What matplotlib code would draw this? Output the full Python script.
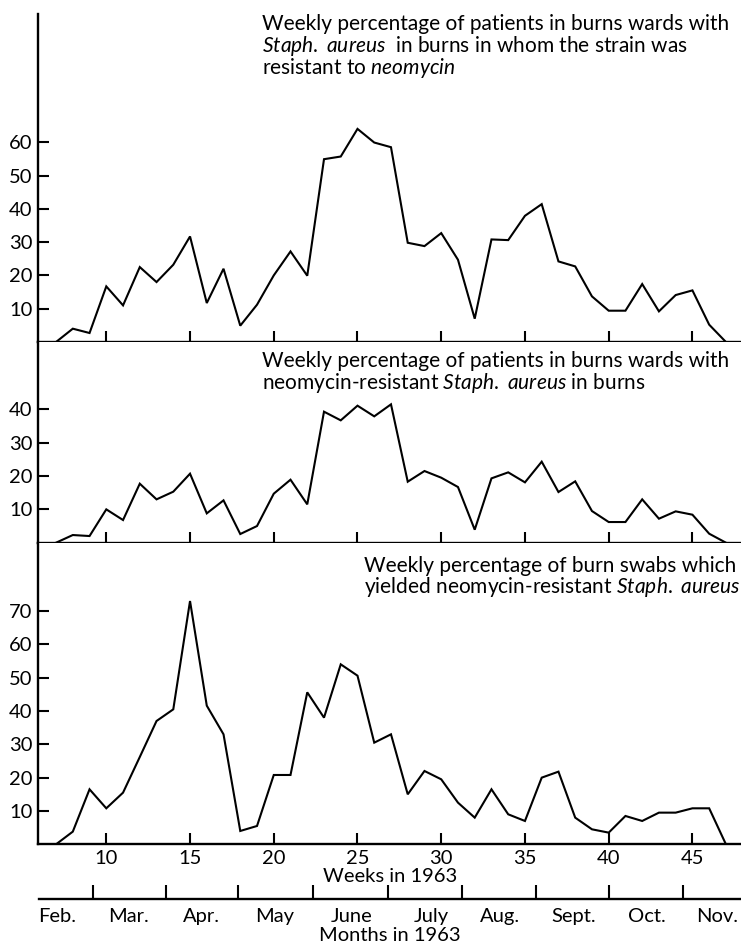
import matplotlib
matplotlib.use("Agg")
import matplotlib.pyplot as plt

plt.rcParams['font.family'] = ['Lato', 'DejaVu Sans']
plt.rcParams['mathtext.fontset'] = 'custom'
plt.rcParams['mathtext.rm'] = 'Lato'
plt.rcParams['mathtext.it'] = 'Lato:italic'

# data
weeks = list(range(7, 48))
resistant_patients = [0, 4, 2.7, 16.7, 11, 22.5, 18, 23.2, 31.7, 11.7, 22, 4.9, 11.2, 20, 27.2,
                      19.9, 54.9, 55.7, 64, 59.9, 58.5, 29.8, 28.8, 32.7, 24.7, 7, 30.8, 30.6,
                      37.9, 41.4, 24.2, 22.7, 13.7, 9.4, 9.4, 17.4, 9.2, 14.1, 15.5, 5.2, 0]
patients_with_nr = [0, 2.3, 2.0, 10, 6.8, 17.7, 13, 15.3, 20.7, 8.8, 12.7, 2.6, 5, 14.7, 18.9,
                    11.5, 39.3, 36.7, 41.1, 37.9, 41.5, 18.3, 21.5, 19.5, 16.7, 3.9, 19.3, 21.1,
                    18.1, 24.3, 15.2, 18.4, 9.5, 6.2, 6.2, 13, 7.2, 9.4, 8.4, 2.7, 0]
swabs_nr = [0, 3.8, 16.5, 10.8, 15.5, 26.2, 37, 40.5, 73, 41.6, 33, 4, 5.5, 20.8, 20.8,
            45.6, 38, 54, 50.6, 30.5, 33, 15, 22, 19.5, 12.5, 8, 16.5, 9, 7, 20,
            21.8, 8, 4.5, 3.5, 8.5, 7, 9.5, 9.5, 10.8, 10.8, 0]

week_ticks = [10, 15, 20, 25, 30, 35, 40, 45]
month_bounds = [9.13, 13.49, 17.8, 22.3, 26.82, 31.19, 35.64, 40.03, 44.45]
month_names = ['Feb.', 'Mar.', 'Apr.', 'May', 'June', 'July', 'Aug.', 'Sept.', 'Oct.', 'Nov.']
month_mid = [7.0, 11.3, 15.65, 20.0, 24.6, 29.4, 33.5, 37.9, 42.3, 46.5]

W, H = 741, 946
fig = plt.figure(figsize=(W / 100, H / 100), dpi=100)

x0 = 38.3 / W
xlim = (5.94, 47.9)


def panel(top, bottom, ylim, yticks, vals):
    ax = fig.add_axes([x0, 1 - bottom / H, 1 - x0, (bottom - top) / H])
    ax.plot(weeks, vals, color='black', lw=1.5, solid_joinstyle='miter')
    ax.set_xlim(*xlim)
    ax.set_ylim(*ylim)
    ax.set_yticks(yticks)
    ax.set_xticks(week_ticks)
    ax.spines['top'].set_visible(False)
    ax.spines['right'].set_visible(False)
    for s in ['left', 'bottom']:
        ax.spines[s].set_linewidth(1.7)
    ax.tick_params(direction='in', length=8, width=1.5, labelsize=14.5, pad=4)
    ax.tick_params(axis='x', labelbottom=False)
    return ax


ax1 = panel(14, 342, (0, 98.5), [10, 20, 30, 40, 50, 60], resistant_patients)
ax2 = panel(342, 542.7, (0, 60.2), [10, 20, 30, 40], patients_with_nr)
ax3 = panel(542.7, 844.3, (0, 90.5), [10, 20, 30, 40, 50, 60, 70], swabs_nr)
ax3.tick_params(axis='x', labelbottom=True, pad=4)
ax3.set_xlabel('Weeks in 1963', fontsize=14.5, labelpad=1)

# months axis
axm = fig.add_axes([39.3 / W, 1 - 899.3 / H, 1 - 39.3 / W, 0.0001])
axm.set_xlim(*xlim)
axm.set_yticks([])
for s in ['top', 'right', 'left']:
    axm.spines[s].set_visible(False)
axm.spines['bottom'].set_linewidth(1.7)
axm.set_xticks(month_bounds)
axm.set_xticks(month_mid, minor=True)
axm.set_xticklabels(month_names, minor=True)
axm.tick_params(which='major', direction='in', length=10, width=1.5, labelbottom=False)
axm.tick_params(which='minor', length=0, labelsize=14.5, pad=6)
axm.set_xlabel('Months in 1963', fontsize=14.5, labelpad=2)


def title(x, ys, lines):
    for y, t in zip(ys, lines):
        fig.text(x / W, 1 - y / H, t, fontsize=15, va='baseline', ha='left')


title(262, [30, 52, 74], ['Weekly percentage of patients in burns wards with',
                          r'$\mathit{Staph.}$ $\mathit{aureus}$  in burns in whom the strain was',
                          r'resistant to $\mathit{neomycin}$'])
title(262, [367.3, 389.3], ['Weekly percentage of patients in burns wards with',
                            r'neomycin-resistant $\mathit{Staph.}$ $\mathit{aureus}$ in burns'])
title(364, [571.7, 592.7], ['Weekly percentage of burn swabs which',
                            r'yielded neomycin-resistant $\mathit{Staph.}$ $\mathit{aureus}$'])

fig.savefig('out.png', dpi=100)
